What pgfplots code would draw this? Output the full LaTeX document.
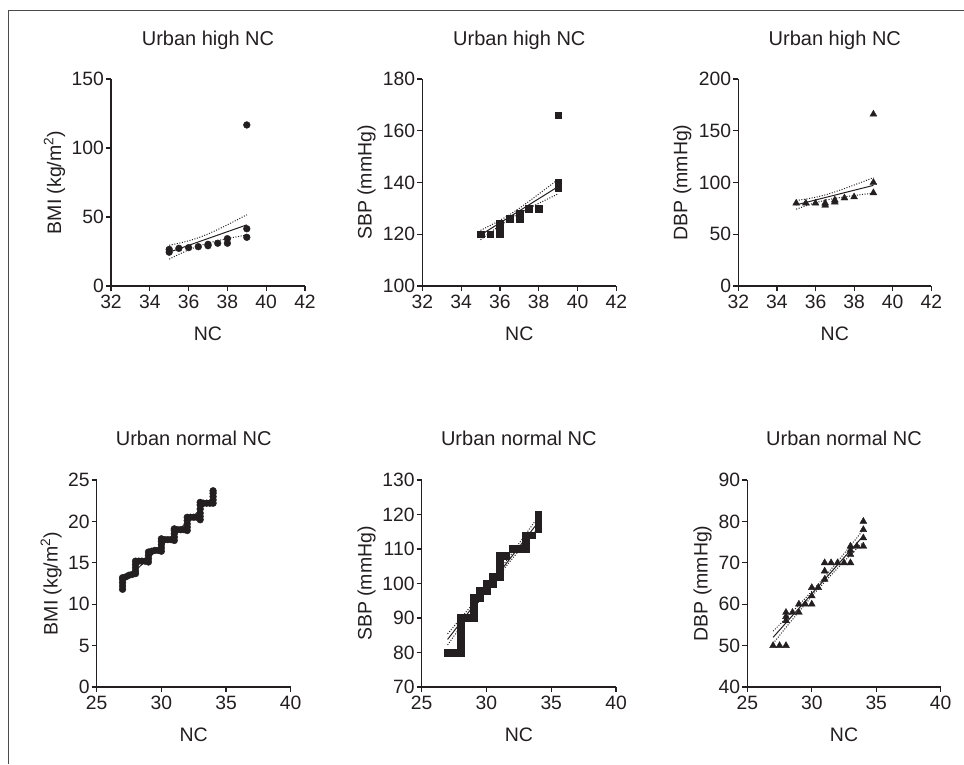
\documentclass[border=0pt]{standalone}
\usepackage{fontspec}
\setmainfont{Liberation Sans}
\usepackage{pgfplots}
\pgfplotsset{compat=1.18}
\definecolor{ink}{HTML}{231F20}

\pgfplotsset{
 panel/.style={
  scale only axis,
  anchor=south west,
  axis x line*=bottom, axis y line*=left,
  axis line style={ink, line width=1.2pt},
  tick style={ink, line width=1.2pt},
  tick align=outside,
  major tick length=5pt,
  clip=false,
  /pgf/number format/assume math mode=true,
  tick label style={font=\fontsize{19.3}{22}\selectfont, text=ink},
  xticklabel style={anchor=base, inner sep=0pt, yshift=-17.3pt},
  yticklabel style={anchor=east, inner sep=0pt, xshift=-2pt},
  label style={font=\fontsize{19.5}{23}\selectfont, text=ink},
  title style={font=\fontsize{20}{24}\selectfont, text=ink, at={(0.5,1)}, anchor=base, inner sep=0pt},
  xlabel style={at={(axis description cs:0.5,0)}, anchor=base, inner sep=0pt, yshift=-54pt},
  ylabel style={anchor=base, inner sep=0pt},
 },
 pts/.style={only marks, ink, fill=ink},
 fitline/.style={no marks, line width=1pt, ink},
 band/.style={no marks, line width=1pt, ink, dash pattern=on 1pt off 1.6pt},
}

\begin{document}
\begin{tikzpicture}
\useasboundingbox (0pt,0pt) rectangle (964pt,-764pt);
\draw[black!70, line width=1pt] (8pt,-764pt) -- (8pt,-10pt) -- (964pt,-10pt);

% ---------- Panel 1: BMI, urban high NC
\begin{axis}[panel, at={(111pt,-286pt)}, width=194pt, height=207pt,
  xmin=32, xmax=42, ymin=0, ymax=150, xtick={32,34,...,42}, ytick={0,50,100,150},
  title={Urban high NC}, title style={yshift=27.5pt},
  xlabel={NC}, ylabel={BMI (kg/m\textsuperscript{2})},
  ylabel style={at={(axis description cs:-0.2577,0.5)}}]
\addplot[pts, mark=*, mark size=3.4pt] coordinates {
 (35,24.5) (35,26.5) (35.5,27.3) (36,27.8) (36.5,28.5) (37,29.2) (37,30.2)
 (37.5,31.0) (38,31.0) (38,34.3) (39,116.7) (39,41.5) (39,35.3)};
\addplot[fitline] coordinates {(35,24.5) (39,44.3)};
\addplot[band] coordinates {(35,29.5) (35.5,30.99) (36,32.73) (36.5,34.93) (37,37.68) (37.5,40.89) (38,44.35) (38.5,47.95) (39,51.6)};
\addplot[band] coordinates {(35,19.5) (35.5,22.97) (36,26.17) (36.5,28.93) (37,31.12) (37.5,32.87) (38,34.35) (38.5,35.71) (39,37.0)};
\end{axis}

% ---------- Panel 2: SBP, urban high NC
\begin{axis}[panel, at={(422.3pt,-286pt)}, width=194pt, height=207pt,
  xmin=32, xmax=42, ymin=100, ymax=180, xtick={32,34,...,42}, ytick={100,120,...,180},
  title={Urban high NC}, title style={yshift=27.5pt},
  xlabel={NC}, ylabel={SBP (mmHg)},
  ylabel style={at={(axis description cs:-0.2608,0.5)}}]
\addplot[pts, mark=square*, mark size=3.4pt] coordinates {
 (35,120) (35.5,120) (36,120) (36,122) (36,124) (36.5,126) (37,126) (37,128)
 (37.5,130) (38,130) (39,166) (39,138) (39,140)};
\addplot[fitline] coordinates {(35,119.7) (39,138.4)};
\addplot[band] coordinates {(35,121.5) (35.5,123.39) (36,125.37) (36.5,127.55) (37,130.04) (37.5,132.74) (38,135.53) (38.5,138.34) (39,141.19)};
\addplot[band] coordinates {(35,117.9) (35.5,120.69) (36,123.39) (36.5,125.87) (37,128.06) (37.5,130.04) (38,131.93) (38.5,133.78) (39,135.61)};
\end{axis}

% ---------- Panel 3: DBP, urban high NC
\begin{axis}[panel, at={(738.3pt,-286pt)}, width=193pt, height=207pt,
  xmin=32, xmax=42, ymin=0, ymax=200, xtick={32,34,...,42}, ytick={0,50,...,200},
  title={Urban high NC}, title style={yshift=27.5pt},
  xlabel={NC}, ylabel={DBP (mmHg)},
  ylabel style={at={(axis description cs:-0.2642,0.5)}}]
\addplot[pts, mark=triangle*, mark size=4pt] coordinates {
 (35,80) (35.5,80) (36,80) (36.5,78) (36.5,80) (37,81) (37,83)
 (37.5,85) (38,86) (39,166) (39,100) (39,90)};
\addplot[fitline] coordinates {(35,78.4) (39,97.2)};
\addplot[band] coordinates {(35,82.6) (35.5,84.0) (36,85.72) (36.5,88.0) (37,90.89) (37.5,94.15) (38,97.57) (38.5,101.08) (39,104.64)};
\addplot[band] coordinates {(35,74.2) (35.5,77.5) (36,80.48) (36.5,82.9) (37,84.71) (37.5,86.15) (38,87.43) (38.5,88.62) (39,89.76)};
\end{axis}

% ---------- Panel 4: BMI, urban normal NC
\begin{axis}[panel, at={(96.7pt,-687pt)}, width=194pt, height=207pt,
  xmin=25, xmax=40, ymin=0, ymax=25, xtick={25,30,35,40}, ytick={0,5,...,25},
  title={Urban normal NC}, title style={yshift=28.5pt},
  xlabel={NC}, ylabel={BMI (kg/m\textsuperscript{2})},
  ylabel style={at={(axis description cs:-0.201,0.5)}}]
\addplot[fitline] coordinates {(27,12.6) (34,22.9)};
\addplot[pts, mark=*, mark size=3.4pt] coordinates {
 (27,11.8) (27,12.2) (27,12.6) (27,13.0) (27,13.2) (27.25,13.3) (27.5,13.5) (27.75,13.6)
 (28,13.7) (28,14.0) (28,14.4) (28,14.8) (28,15.2) (28.25,15.2) (28.5,15.2) (28.75,15.2)
 (29,15.1) (29,15.5) (29,15.9) (29,16.3) (29.25,16.4) (29.5,16.5) (29.75,16.5)
 (30,16.4) (30,16.8) (30,17.2) (30,17.6) (30,17.9) (30.25,17.8) (30.5,17.8) (30.75,17.8)
 (31,17.7) (31,18.1) (31,18.5) (31,18.9) (31,19.1) (31.25,19.0) (31.5,19.0) (31.75,19.0)
 (32,18.9) (32,19.3) (32,19.7) (32,20.1) (32,20.5) (32.25,20.5) (32.5,20.5) (32.75,20.5)
 (33,20.2) (33,20.6) (33,21.0) (33,21.5) (33,22.0) (33,22.3) (33.25,22.2) (33.5,22.2) (33.75,22.2)
 (34,22.2) (34,22.6) (34,23.0) (34,23.4) (34,23.7)};
\end{axis}

% ---------- Panel 5: SBP, urban normal NC
\begin{axis}[panel, at={(421.7pt,-687pt)}, width=194.3pt, height=207pt,
  xmin=25, xmax=40, ymin=70, ymax=130, xtick={25,30,35,40}, ytick={70,80,...,130},
  title={Urban normal NC}, title style={yshift=28.5pt},
  xlabel={NC}, ylabel={SBP (mmHg)},
  ylabel style={at={(axis description cs:-0.2573,0.5)}}]
\addplot[pts, mark=square*, mark size=3.4pt] coordinates {
 (27,80) (27.5,80) (28,80) (28,82) (28,84) (28,86) (28,88) (28,90)
 (28.5,90) (29,90) (29,92) (29,94) (29,96) (29.5,96) (29.5,98)
 (30,98) (30,100) (30.5,100) (30.5,102) (31,102) (31,104) (31,106) (31,108)
 (31.5,108) (32,110) (32.5,110) (33,110) (33,112) (33,114) (33.5,114)
 (34,116) (34,118) (34,120)};
\addplot[fitline] coordinates {(27,83.8) (34,117.8)};
\addplot[band] coordinates {(27,85.4) (28,89.86) (29,94.36) (30,98.97) (31,103.83) (32,108.94) (33,114.14) (34,119.4)};
\addplot[band] coordinates {(27,82.2) (28,87.46) (29,92.66) (30,97.77) (31,102.63) (32,107.24) (33,111.74) (34,116.2)};
\end{axis}

% ---------- Panel 6: DBP, urban normal NC
\begin{axis}[panel, at={(747.3pt,-687pt)}, width=193.4pt, height=207pt,
  xmin=25, xmax=40, ymin=40, ymax=90, xtick={25,30,35,40}, ytick={40,50,...,90},
  title={Urban normal NC}, title style={yshift=28.5pt},
  xlabel={NC}, ylabel={DBP (mmHg)},
  ylabel style={at={(axis description cs:-0.2048,0.5)}}]
\addplot[pts, mark=triangle*, mark size=4pt] coordinates {
 (27,50) (27.5,50) (28,50) (28,56) (28,57) (28,58) (28.5,58)
 (29,58) (29,60) (29.5,60) (30,60) (30,62) (30,64) (30.5,64)
 (31,66) (31,68) (31,70) (31.5,70) (32,70) (32.5,70)
 (33,70) (33,72) (33,73) (33,74) (33.5,74)
 (34,74) (34,76) (34,78) (34,80)};
\addplot[fitline] coordinates {(27,52.0) (34,76.5)};
\addplot[band] coordinates {(27,53.5) (28,56.6) (29,59.8) (30,63.1) (31,66.6) (32,70.3) (33,74.1) (34,78.0)};
\addplot[band] coordinates {(27,50.5) (28,54.4) (29,58.2) (30,61.9) (31,65.4) (32,68.7) (33,71.9) (34,75.0)};
\end{axis}
\end{tikzpicture}
\end{document}
